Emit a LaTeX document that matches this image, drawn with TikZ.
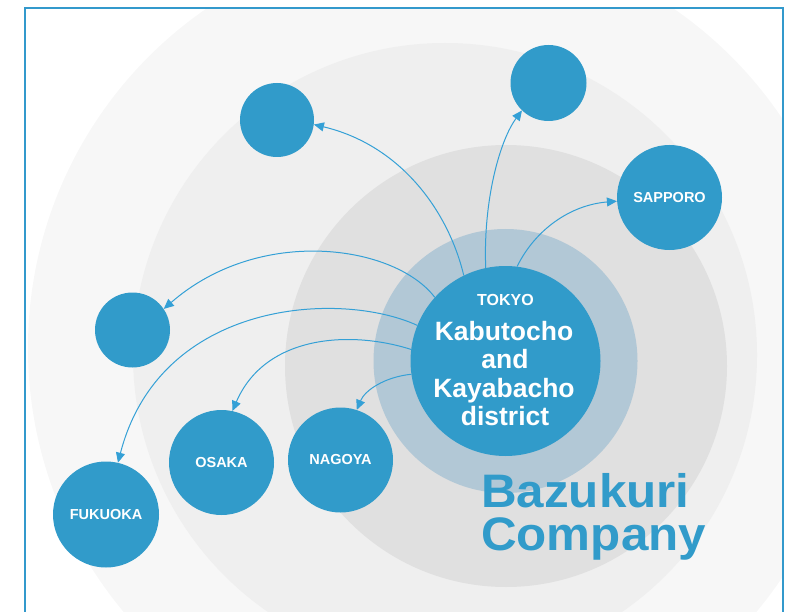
\documentclass[tikz,border=0pt]{standalone}
\usepackage{fontspec}
\setmainfont{Liberation Sans}
\newfontfamily\brandfont[FakeStretch=1.05]{Liberation Sans}
\usetikzlibrary{arrows.meta}
\definecolor{cityblue}{RGB}{49,155,202}
\definecolor{arrowblue}{RGB}{52,160,214}
\definecolor{ringblue}{RGB}{178,200,214}
\definecolor{gA}{RGB}{247,247,247}
\definecolor{gB}{RGB}{239,239,239}
\definecolor{gC}{RGB}{224,224,224}
\definecolor{framec}{RGB}{51,153,204}
\begin{document}
\begin{tikzpicture}[x=1pt,y=-1pt,
  city/.style={circle, fill=cityblue, text=white, inner sep=0pt,
    font=\bfseries\fontsize{14.5}{17}\selectfont},
  arr/.style={draw=arrowblue, line width=1pt, -{Triangle[length=10pt,width=9pt]}},
  tokyotxt/.style={text=white, inner sep=0pt, anchor=base,
    font=\bfseries\fontsize{26.5}{28.5}\selectfont},
  brand/.style={text=cityblue, inner sep=0pt, anchor=base west,
    font=\brandfont\bfseries\fontsize{47}{47}\selectfont}]
\useasboundingbox (0,0) rectangle (786,612);
\begin{scope}
  \clip (25,8) rectangle (783,620);
  \fill[gA] (440,348) circle (412);
  \fill[gB] (445,355) circle (312);
  \fill[gC] (506,366) circle (221);
  \fill[ringblue] (505.5,361) circle (132);
\end{scope}
\draw[framec, line width=1.6pt] (25,620) -- (25,8) -- (783,8) -- (783,620);

\node[city, minimum size=190pt] (tokyo) at (505.5,361) {};
\node[city, minimum size=74pt] (tl) at (277,120) {};
\node[city, minimum size=76pt] (top) at (548.5,83) {};
\node[city, minimum size=105pt] (sapporo) at (669.5,197.5) {SAPPORO};
\node[city, minimum size=75pt] (left) at (132.5,330) {};
\node[city, minimum size=105pt] (osaka) at (221.5,462.5) {OSAKA};
\node[city, minimum size=105pt] (nagoya) at (340.5,460) {NAGOYA};
\node[city, minimum size=106pt] (fukuoka) at (106,514.5) {FUKUOKA};

\node[text=white, inner sep=0pt, anchor=base,
  font=\bfseries\fontsize{16}{18}\selectfont] (tk) at (505.5,305) {TOKYO};
\node[tokyotxt] (l1) at (504,340) {Kabutocho};
\node[tokyotxt] (l2) at (505,368) {and};
\node[tokyotxt] (l3) at (504,397) {Kayabacho};
\node[tokyotxt] (l4) at (505,425) {district};

\node[brand] (b1) at (481,507) {Bazukuri};
\node[brand] (b2) at (481,550) {Company};

\draw[arr] (tokyo.116.8) .. controls (448,210) and (400,145) .. (tl.-7.5);
\draw[arr] (tokyo.102.9) .. controls (483,200) and (500,140) .. (top.226.6);
\draw[arr] (tokyo.83) .. controls (535,230) and (570,205) .. (sapporo.184);
\draw[arr] (tokyo.138.6) .. controls (395,245) and (260,225) .. (left.34);
\draw[arr] (tokyo.158.6) .. controls (340,290) and (160,300) .. (fukuoka.77);
\draw[arr] (tokyo.173.3) .. controls (350,330) and (265,335) .. (osaka.78);
\draw[arr] (tokyo.188.5) .. controls (385,377) and (365,390) .. (nagoya.72.7);
\end{tikzpicture}
\end{document}
